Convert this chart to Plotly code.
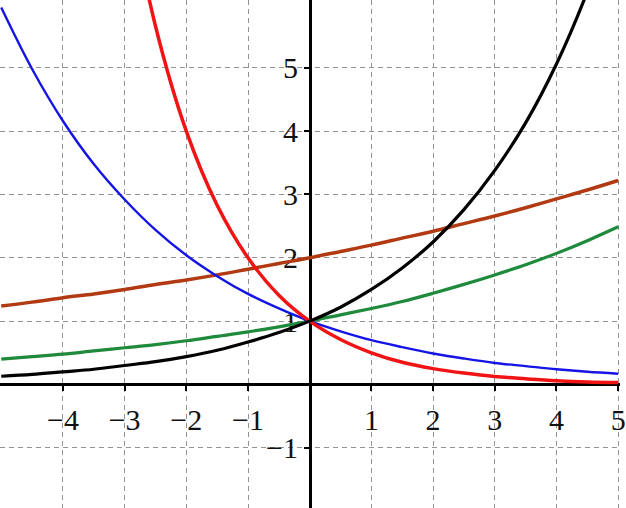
import plotly.graph_objects as go

# x sample positions
x_vals = [-5, -4.5, -4, -3.5, -3, -2.5, -2, -1.5, -1, -0.5, 0,
          0.5, 1, 1.5, 2, 2.5, 3, 3.5, 4, 4.5, 5]

# values
black_y = [0.13, 0.16, 0.20, 0.24, 0.30, 0.36, 0.44, 0.54, 0.67, 0.82, 1.00,
           1.22, 1.50, 1.84, 2.25, 2.76, 3.38, 4.13, 5.06, 6.20, 7.59]
green_y = [0.40, 0.44, 0.48, 0.53, 0.58, 0.63, 0.69, 0.76, 0.83, 0.91, 1.00,
           1.10, 1.20, 1.31, 1.44, 1.58, 1.73, 1.89, 2.07, 2.27, 2.49]
blue_y = [5.95, 4.98, 4.16, 3.48, 2.92, 2.44, 2.04, 1.71, 1.43, 1.20, 1.00,
          0.84, 0.70, 0.59, 0.49, 0.41, 0.34, 0.29, 0.24, 0.20, 0.17]
red_x = [-3, -2.5, -2, -1.5, -1, -0.5, 0, 0.5, 1, 1.5, 2, 2.5, 3, 3.5, 4, 4.5, 5]
red_y = [8.00, 5.66, 4.00, 2.83, 2.00, 1.41, 1.00, 0.71, 0.50, 0.35, 0.25,
         0.18, 0.125, 0.09, 0.06, 0.04, 0.03]
brown_y = [1.24, 1.30, 1.37, 1.43, 1.50, 1.58, 1.65, 1.73, 1.82, 1.91, 2.00,
           2.10, 2.20, 2.31, 2.42, 2.54, 2.66, 2.79, 2.93, 3.07, 3.22]

x_ticks = [-4, -3, -2, -1, 1, 2, 3, 4, 5]
x_tick_text = ["\u22124", "\u22123", "\u22122", "\u22121", "1", "2", "3", "4", "5"]
y_ticks = [-2, -1, 1, 2, 3, 4, 5]
y_tick_text = ["\u22122", "\u22121", "1", "2", "3", "4", "5"]

x_range = [-5.02, 5.03]
y_range = [-1.95, 6.07]

fig = go.Figure()
series = [
    (x_vals, brown_y, "#b13a12", 3.5),
    (x_vals, green_y, "#1f8a3c", 3.2),
    (x_vals, blue_y, "#1414e6", 2.4),
    (red_x, red_y, "#f01414", 3.5),
    (x_vals, black_y, "#000000", 3.2),
]
for xs, ys, col, w in series:
    fig.add_trace(go.Scatter(x=xs, y=ys, mode="lines",
                             line=dict(color=col, width=w, shape="spline", smoothing=1.0),
                             hoverinfo="skip", showlegend=False))

x_pos = (0 - y_range[0]) / (y_range[1] - y_range[0])
y_pos = (0 - x_range[0]) / (x_range[1] - x_range[0])

font = dict(family="Liberation Serif, Times New Roman, serif", size=30, color="#111111")

fig.update_layout(
    width=626, height=508,
    margin=dict(l=0, r=0, t=0, b=0),
    paper_bgcolor="white", plot_bgcolor="white",
    showlegend=False,
    xaxis=dict(range=x_range, tickmode="array", tickvals=x_ticks, ticktext=x_tick_text,
               showgrid=True, gridcolor="#939393", gridwidth=1, griddash="5px,4px",
               zeroline=False, showline=True, linecolor="black", linewidth=2.5,
               anchor="free", position=x_pos, ticks="outside", ticklen=5,
               tickwidth=2, tickcolor="black", tickfont=font,
               ticklabelstandoff=3, ticklabeloverflow="allow", layer="below traces"),
    yaxis=dict(range=y_range, tickmode="array", tickvals=y_ticks, ticktext=y_tick_text,
               showgrid=True, gridcolor="#939393", gridwidth=1, griddash="5px,4px",
               zeroline=False, showline=True, linecolor="black", linewidth=2.5,
               anchor="free", position=y_pos, ticks="outside", ticklen=5,
               tickwidth=2, tickcolor="black", tickfont=font,
               ticklabeloverflow="allow", layer="below traces"),
)
fig.write_html("out.html", config={"displayModeBar": False},
               post_script="document.body.style.margin='0';document.body.style.overflow='hidden';")
